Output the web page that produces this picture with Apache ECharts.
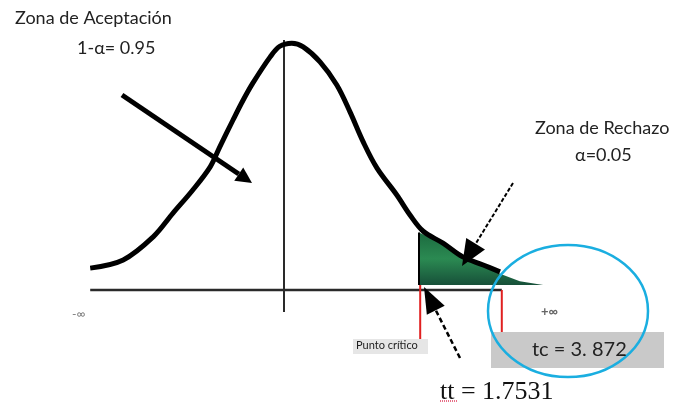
<!DOCTYPE html>
<html>
<head>
<meta charset="utf-8">
<script src="https://cdn.jsdelivr.net/npm/echarts@6/dist/echarts.min.js"></script>
<style>
  html, body { margin: 0; padding: 0; background: #fff; }
  #chart { width: 674px; height: 407px; }
</style>
</head>
<body>
<div id="chart"></div>
<script>
// curve (x in t units, y = density)
const curveX = [-3.23, -2.68, -2.18, -1.85, -1.52, -1.23, -1.07, -0.85, -0.68, -0.52, -0.23, -0.07, 0.13, 0.32, 0.6, 0.88, 1.1, 1.32, 1.55, 1.88, 2.1, 2.32, 2.65, 2.98, 3.32, 3.6];
const curveY = [0.035, 0.048, 0.085, 0.123, 0.16, 0.197, 0.229, 0.272, 0.304, 0.331, 0.373, 0.39, 0.395, 0.389, 0.365, 0.328, 0.285, 0.237, 0.195, 0.152, 0.12, 0.094, 0.075, 0.053, 0.04, 0.029];

// rejection zone (green tail)
const tailX = [2.25, 2.65, 2.98, 3.32, 3.6, 3.93, 4.32];
const tailY = [0.092, 0.074, 0.053, 0.038, 0.026, 0.014, 0.008];
const tailBase = 0.008;

// axis, centre line and the two red markers
const axisX = [-3.23, 3.63];
const centreY = [0.4, -0.035];
const critX = [2.27, 3.63];
const critTop = [0.008, 0];
const critBottom = [-0.083, -0.067];

function arrow(x1, y1, x2, y2, w, hl, hw, dash) {
    const dx = x2 - x1, dy = y2 - y1;
    const L = Math.hypot(dx, dy);
    const ux = dx / L, uy = dy / L;
    const bx = x2 - ux * hl, by = y2 - uy * hl;
    return [
        { type: 'line', z: 50, shape: { x1: x1, y1: y1, x2: bx, y2: by },
          style: { stroke: '#000', lineWidth: w, lineDash: dash || null } },
        { type: 'polygon', z: 50,
          shape: { points: [[x2, y2], [bx - uy * hw / 2, by + ux * hw / 2], [bx + uy * hw / 2, by - ux * hw / 2]] },
          style: { fill: '#000' } }
    ];
}

const sans = 'Lato, "Open Sans", sans-serif';

document.addEventListener('DOMContentLoaded', function () {
    const chart = echarts.init(document.getElementById('chart'));

    const texts = [
        { type: 'text', z: 60, left: 15, top: 9, style: { text: 'Zona de Aceptación', font: '18px ' + sans, fill: '#222' } },
        { type: 'text', z: 60, left: 77, top: 39, style: { text: '1-α= 0.95', font: '18px ' + sans, fill: '#222' } },
        { type: 'text', z: 60, left: 535, top: 119, style: { text: 'Zona de Rechazo', font: '18px ' + sans, fill: '#222' } },
        { type: 'text', z: 60, left: 575, top: 146, style: { text: 'α=0.05', font: '18px ' + sans, fill: '#222' } },
        { type: 'text', z: 60, left: 72, top: 308, style: { text: '-∞', font: '12px ' + sans, fill: '#777' } },
        { type: 'text', z: 60, left: 541, top: 305, style: { text: '+∞', font: 'bold 13px ' + sans, fill: '#666' } },
        { type: 'rect', z: 40, shape: { x: 353, y: 339, width: 75, height: 15 }, style: { fill: '#e6e6e6' } },
        { type: 'text', z: 60, left: 356, top: 340, style: { text: 'Punto crítico', font: '11px ' + sans, fill: '#222' } },
        { type: 'rect', z: 5, shape: { x: 491, y: 332, width: 173, height: 36 }, style: { fill: '#c9c9c9' } },
        { type: 'text', z: 60, left: 532, top: 340, style: { text: 'tc = 3. 872', font: '20px ' + sans, fill: '#222' } },
        { type: 'text', z: 60, left: 440, top: 379, style: { text: 'tt = 1.7531', font: '26px "Liberation Serif", serif', fill: '#111' } },
        { type: 'line', z: 60, shape: { x1: 440, y1: 401, x2: 458, y2: 401 }, style: { stroke: '#e04060', lineWidth: 1.5, lineDash: [1, 1] } },
        { type: 'ellipse', z: 10, shape: { cx: 568, cy: 311, rx: 80, ry: 66 }, style: { fill: 'none', stroke: '#1aaee0', lineWidth: 2.5 } }
    ];

    const arrows = [].concat(
        arrow(122, 95, 252, 183, 5, 16, 16),
        arrow(513, 183, 462, 266, 2, 26, 22, [4, 2]),
        arrow(460, 358, 424, 287, 2.5, 26, 20, [5, 3])
    );

    const option = {
        animation: false,
        backgroundColor: '#fff',
        grid: { left: 14, top: 40, width: 540, height: 312.5 },
        xAxis: { type: 'value', min: -4.5, max: 4.5, show: false },
        yAxis: { type: 'value', min: -0.1, max: 0.4, show: false },
        graphic: texts.concat(arrows),
        series: [
            {
                name: 'axis', type: 'line', symbol: 'none', z: 3,
                data: axisX.map(x => [x, 0]),
                lineStyle: { color: '#2a2a2a', width: 2.5 }
            },
            {
                name: 'centre', type: 'line', symbol: 'none', z: 3,
                data: centreY.map(y => [0, y]),
                lineStyle: { color: '#2a2a2a', width: 2 }
            },
            {
                name: 'rechazo', type: 'line', symbol: 'none', z: 4,
                data: tailX.map((x, i) => [x, tailY[i]]),
                lineStyle: { width: 0 },
                areaStyle: {
                    origin: tailBase,
                    opacity: 1,
                    color: {
                        type: 'linear', x: 0, y: 0, x2: 0, y2: 1,
                        colorStops: [
                            { offset: 0, color: '#1c6a3f' },
                            { offset: 0.5, color: '#2b8a52' },
                            { offset: 1, color: '#175039' }
                        ]
                    }
                }
            },
            {
                name: 'edge', type: 'line', symbol: 'none', z: 5,
                data: [[tailX[0], tailBase], [tailX[0], tailY[0]]],
                lineStyle: { color: '#000', width: 2 }
            },
            {
                name: 'curva', type: 'line', symbol: 'none', z: 6, smooth: 0.35,
                data: curveX.map((x, i) => [x, curveY[i]]),
                lineStyle: { color: '#000', width: 5 }
            },
            {
                name: 'crit', type: 'line', symbol: 'none', z: 7,
                data: [[critX[0], critTop[0]], [critX[0], critBottom[0]]],
                lineStyle: { color: '#e02020', width: 2 }
            },
            {
                name: 'crit2', type: 'line', symbol: 'none', z: 7,
                data: [[critX[1], critTop[1]], [critX[1], critBottom[1]]],
                lineStyle: { color: '#e02020', width: 2 }
            }
        ]
    };
    chart.setOption(option);
});
</script>
</body>
</html>
